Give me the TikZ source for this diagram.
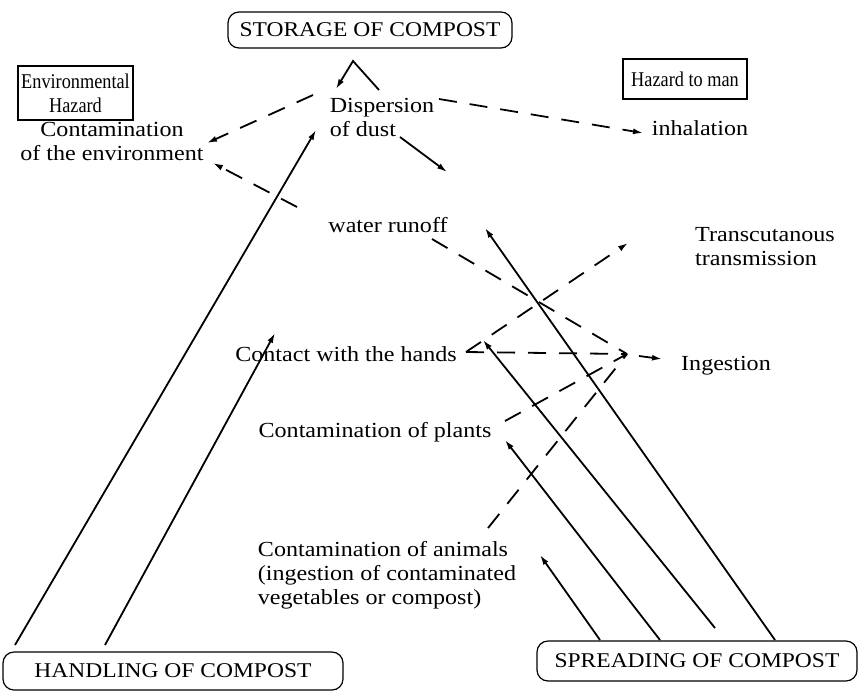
\documentclass[tikz,border=0pt]{standalone}
\usepackage{fontspec}
\setmainfont{Liberation Serif}[FakeStretch=1.12]
\newfontfamily\boxfont{Liberation Serif}[FakeStretch=0.87]
\usetikzlibrary{calc,arrows.meta}
\begin{document}
\begin{tikzpicture}[x=1pt,y=-1pt,
  txt/.style={font=\fontsize{21.5}{24}\selectfont, inner sep=1pt},
  rbox/.style={draw, line width=1.2pt, rounded corners=11pt, font=\fontsize{21}{24}\selectfont, inner sep=0pt},
  sbox/.style={draw, line width=1.1pt, font=\boxfont\fontsize{21}{24}\selectfont, inner sep=0pt},
  arr/.style={line width=1.8pt, -{Latex[length=10pt,width=6pt]}},
  dsh/.style={line width=1.8pt, dash pattern=on 18pt off 13pt},
  darr/.style={dsh, -{Latex[length=10pt,width=6pt]}},
  ln/.style={line width=1.8pt}
]
\useasboundingbox (0,0) rectangle (866,691);

% boxes
\node[rbox, minimum width=284pt, minimum height=36pt] (storage) at (370,30) {STORAGE OF COMPOST};
\node[sbox, minimum width=115pt, minimum height=54pt, align=center] (envbox) at (75.5,93) {Environmental\\Hazard};
\node[sbox, minimum width=124pt, minimum height=40pt] (manbox) at (685,79) {Hazard to man};
\node[rbox, minimum width=340pt, minimum height=38pt] (handling) at (173,671) {HANDLING OF COMPOST\hspace{22pt}};
\node[rbox, minimum width=320pt, minimum height=40pt] (spreading) at (697,661) {SPREADING OF COMPOST};

% texts
\node[txt, align=left] (disp) at (382,117) {Dispersion\\of dust};
\node[txt] (inh) at (700,128) {inhalation};
\node[txt, align=center] (env) at (112,141) {Contamination\\of the environment};
\node[txt] (runoff) at (388,225) {water runoff};
\node[txt, align=left] (trans) at (765,247) {Transcutanous\\transmission};
\node[txt] (hands) at (346,354) {Contact with the hands};
\node[txt] (ing) at (726,366) {Ingestion};
\node[txt] (plants) at (375,432) {Contamination of plants};
\node[txt, align=left] (animals) at (387,575) {Contamination of animals\\(ingestion of contaminated\\vegetables or compost)};

\coordinate (conv) at ($(ing)+(-99,-12)$);
\coordinate (vtx) at ($(hands)+(120,-2)$);

% solid arrows
\draw[arr] ($(disp)+(-3,-27)$) -- ($(disp)+(-29,-56)$) -- ($(disp)+(-46,-28)$);
\draw[arr] ($(handling)+(-158,-26)$) -- ($(disp)+(-66,13)$);
\draw[arr] ($(handling)+(-68,-26)$) -- ($(hands)+(-71,-21)$);
\draw[arr] ($(disp)+(18,20)$) -- ($(runoff)+(59,-53)$);
\draw[arr] ($(spreading)+(78,-21)$) -- ($(runoff)+(97,3)$);
\draw[arr] ($(spreading)+(18,-33)$) -- ($(hands)+(137,-14)$);
\draw[arr] ($(spreading)+(-37,-21)$) -- ($(plants)+(130,8)$);
\draw[arr] ($(spreading)+(-97,-21)$) -- ($(animals)+(153,-20)$);

% dashed arrows
\draw[darr] ($(disp)+(-69,-22)$) -- ($(env)+(95,2)$);
\draw[darr] ($(disp)+(57,-18)$) -- ($(inh)+(-57,5)$);
\draw[darr] ($(runoff)+(-91,-18)$) -- ($(env)+(101,22)$);
\draw[dsh] ($(runoff)+(44,14)$) -- (conv);
\draw[darr] (vtx) -- ($(trans)+(-137,-4)$);
\draw[dsh] (vtx) -- (conv);
\draw[dsh] ($(plants)+(130,-11)$) -- (conv);
\draw[dsh] ($(animals)+(101,-47)$) -- (conv);
\draw[arr] ($(conv)+(12,2)$) -- ($(ing)+(-64,-7)$);
\end{tikzpicture}
\end{document}
